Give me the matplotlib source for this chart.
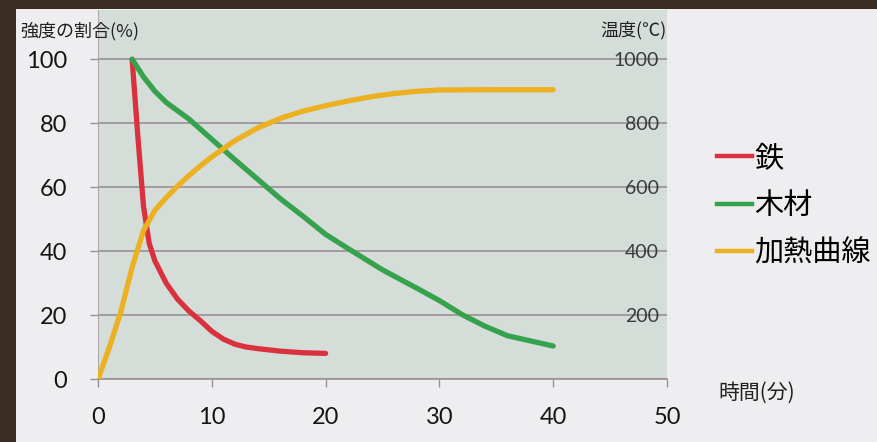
import matplotlib
matplotlib.use("Agg")
import matplotlib.pyplot as plt
from matplotlib.patches import Rectangle
from matplotlib.lines import Line2D

plt.rcParams['font.family'] = ['Noto Sans CJK JP', 'DejaVu Sans']

# 鉄 / 木材: 強度の割合(%) vs 時間(分)
iron_t = [3, 3.5, 4, 4.5, 5, 6, 7, 8, 9, 10, 11, 12, 13, 14, 16, 18, 20]
iron_pct = [100, 76, 54, 42.5, 37, 30, 25, 21.3, 18.3, 15, 12.6, 11, 10.1, 9.6, 8.8, 8.3, 8.1]

wood_t = [3, 4, 5, 6, 8, 10, 12, 14, 16, 18, 20, 22, 25, 28, 30, 32, 34, 36, 38, 40]
wood_pct = [100, 94.5, 90, 86.5, 81.3, 75, 68.7, 62.6, 56.5, 51, 45.3, 40.8, 34.2, 28.5, 24.6,
            20.2, 16.6, 13.6, 12, 10.4]

# 加熱曲線: 温度(℃)
heat_t = [0, 1, 2, 3, 4, 5, 6, 7, 8, 9, 10, 12, 14, 16, 18, 20, 22, 24, 26, 28, 30, 35, 40]
heat_temp = [0, 100, 210, 350, 465, 528, 568, 604, 637, 667, 695, 745, 785, 815, 838, 855,
             870, 883, 893, 900, 904, 905, 905]

x_ticks = [0, 10, 20, 30, 40, 50]
pct_ticks = [0, 20, 40, 60, 80, 100]
temp_ticks = [200, 400, 600, 800, 1000]

RED = '#d9323e'
GREEN = '#36a24e'
ORANGE = '#ecb021'
GRID = '#9a9096'

fig = plt.figure(figsize=(8.77, 4.42), dpi=100)
fig.patch.set_facecolor('#eeeef0')

# photo edge
fig.patches.append(Rectangle((0, 0), 16 / 877, 1, transform=fig.transFigure,
                             facecolor='#3b2c22', edgecolor='none', zorder=10))
fig.patches.append(Rectangle((0, 1 - 9 / 442), 1, 9 / 442, transform=fig.transFigure,
                             facecolor='#3b2c22', edgecolor='none', zorder=10))

ax = fig.add_axes([98 / 877, 1 - 379.3 / 442, (667 - 98) / 877, (379.3 - 10) / 442])
ax.set_facecolor('#d5ddd8')
ax.set_xlim(0, 50)
ax.set_ylim(0, 115.4)

ax.set_xticks(x_ticks)
ax.set_yticks(pct_ticks)
ax.tick_params(axis='x', direction='out', length=6, width=1, color=GRID, pad=14,
               labelsize=17)
ax.tick_params(axis='y', direction='out', length=6, width=1, color=GRID, pad=16,
               labelsize=17)
for lbl in ax.get_xticklabels() + ax.get_yticklabels():
    lbl.set_family('Lato')
    lbl.set_color('#151515')

ax.grid(axis='y', color=GRID, linewidth=1.2)
ax.set_axisbelow(True)
for side in ['top', 'right']:
    ax.spines[side].set_visible(False)
ax.spines['left'].set_color('#b0aab0')
ax.spines['left'].set_linewidth(0.8)
ax.spines['bottom'].set_color(GRID)
ax.spines['bottom'].set_linewidth(1.2)

ax.plot(iron_t, iron_pct, color=RED, linewidth=3.8, solid_capstyle='round',
        solid_joinstyle='round', zorder=3)
ax.plot(wood_t, wood_pct, color=GREEN, linewidth=3.8, solid_capstyle='round',
        solid_joinstyle='round', zorder=3)

# temperature scale on the right, labels drawn inside the plot
ax2 = ax.twinx()
ax2.set_ylim(0, 1154)
ax2.set_yticks(temp_ticks)
ax2.tick_params(axis='y', length=0, pad=-6, labelsize=14)
for lbl in ax2.get_yticklabels():
    lbl.set_ha('right')
    lbl.set_family('Lato')
    lbl.set_color('#3a3a3a')
for side in ax2.spines:
    ax2.spines[side].set_visible(False)
ax2.plot(heat_t, heat_temp, color=ORANGE, linewidth=3.8, solid_capstyle='round',
         solid_joinstyle='round', zorder=3)

fig.text(20 / 877, 1 - 31 / 442, '強度の割合(%)', fontsize=13, ha='left', va='center',
         color='#222222')
fig.text(667 / 877, 1 - 30 / 442, '温度(℃)', fontsize=13, ha='right', va='center',
         color='#222222')
fig.text(718 / 877, 1 - 393 / 442, '時間(分)', fontsize=15, ha='left', va='center',
         color='#222222')

handles = [Line2D([], [], color=RED, linewidth=3.2),
           Line2D([], [], color=GREEN, linewidth=3.2),
           Line2D([], [], color=ORANGE, linewidth=3.2)]
fig.legend(handles, ['鉄', '木材', '加熱曲線'], loc='upper left',
           bbox_to_anchor=(705 / 877, 1 - 132 / 442), frameon=False, fontsize=21,
           handlelength=1.2, handletextpad=0.1, labelspacing=0.6, borderaxespad=0)

fig.savefig('out.png', dpi=100, facecolor=fig.get_facecolor())
